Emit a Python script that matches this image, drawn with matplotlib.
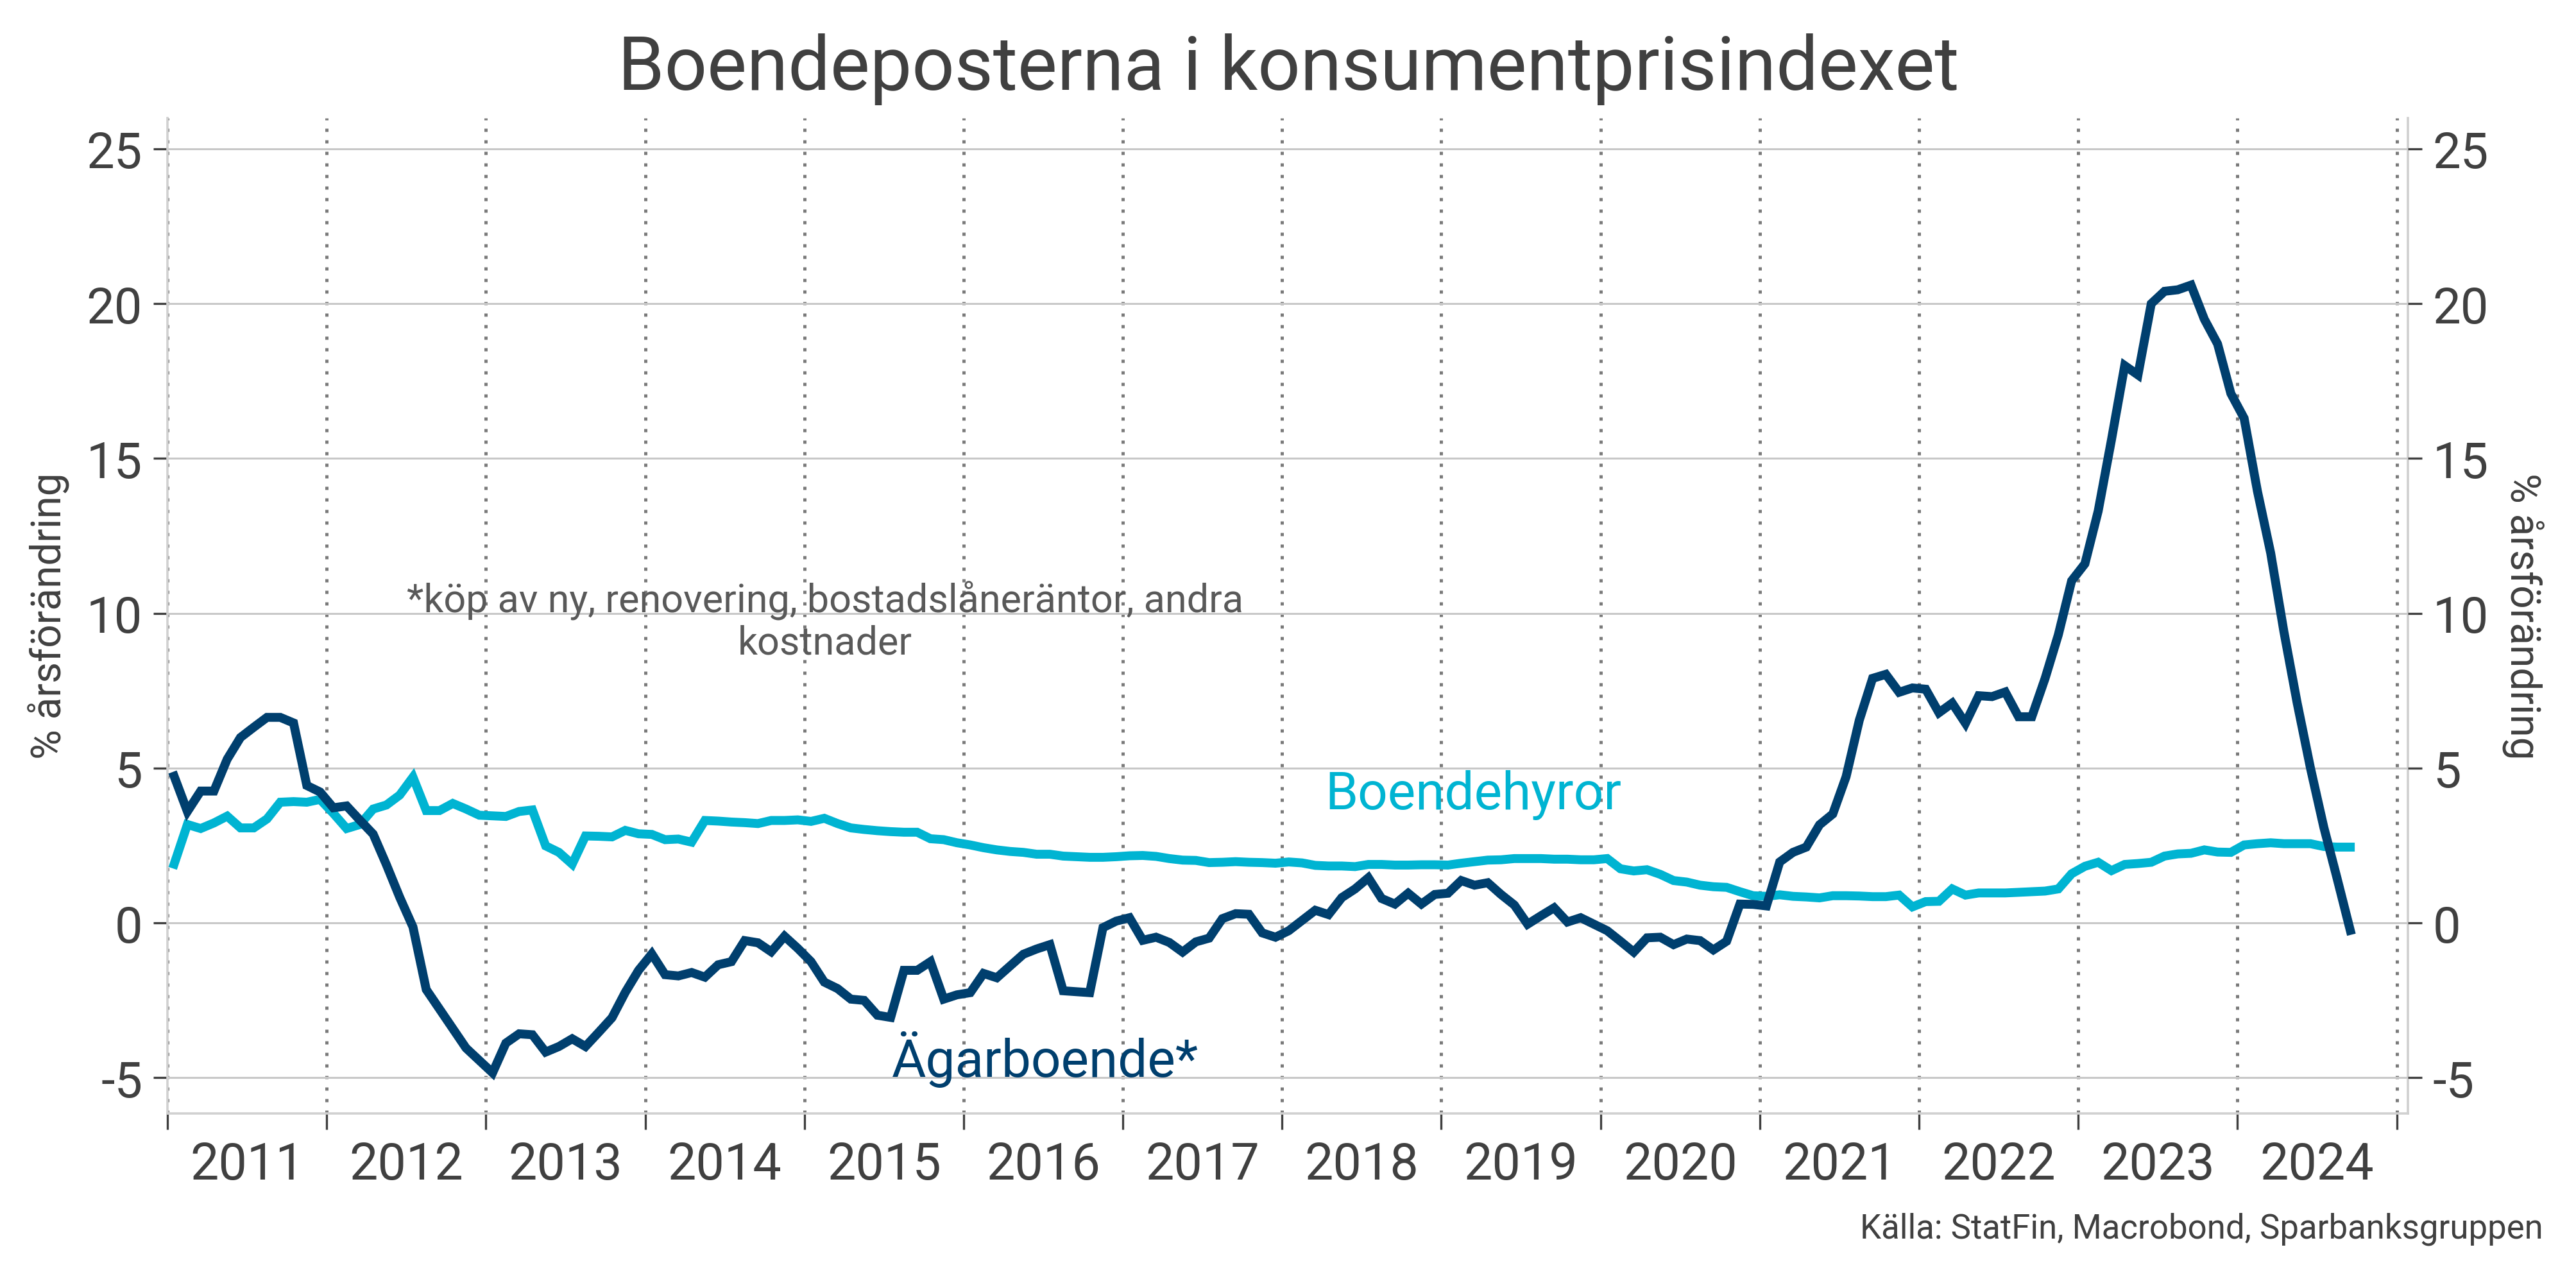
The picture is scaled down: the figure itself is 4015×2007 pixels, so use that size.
import numpy as np
import matplotlib
matplotlib.use("Agg")
import matplotlib.pyplot as plt
from matplotlib.ticker import FixedLocator, FuncFormatter

plt.rcParams['font.family'] = ['Roboto', 'DejaVu Sans']

# monthly data, Jan 2011 - Sep 2024 (% årsförändring)
start_year = 2011
agarboende = [
    4.74, 3.6, 4.26, 4.26, 5.29, 5.99, 6.32, 6.64, 6.64, 6.46, 4.44, 4.23,
    3.72, 3.78, 3.32, 2.87, 1.88, 0.83, -0.13, -2.15, -2.78, -3.41, -4.04, -4.44,
    -4.84, -3.88, -3.58, -3.61, -4.17, -3.99, -3.74, -3.99, -3.53, -3.06, -2.24, -1.53,
    -1.0, -1.67, -1.71, -1.6, -1.75, -1.35, -1.25, -0.57, -0.64, -0.93, -0.43, -0.82,
    -1.25, -1.91, -2.12, -2.46, -2.5, -2.98, -3.05, -1.53, -1.53, -1.25, -2.46, -2.32,
    -2.25, -1.63, -1.77, -1.39, -1.01, -0.84, -0.7, -2.19, -2.22, -2.25, -0.15, 0.06,
    0.17, -0.56, -0.46, -0.63, -0.94, -0.61, -0.49, 0.14, 0.3, 0.28, -0.32, -0.46,
    -0.25, 0.08, 0.41, 0.27, 0.82, 1.1, 1.46, 0.79, 0.61, 0.96, 0.61, 0.92,
    0.96, 1.37, 1.22, 1.3, 0.92, 0.58, -0.04, 0.23, 0.49, 0.03, 0.17, -0.04,
    -0.25, -0.59, -0.94, -0.48, -0.46, -0.7, -0.52, -0.57, -0.87, -0.59, 0.61, 0.6,
    0.55, 1.97, 2.28, 2.45, 3.17, 3.52, 4.72, 6.55, 7.9, 8.03, 7.45, 7.59,
    7.55, 6.79, 7.1, 6.45, 7.34, 7.31, 7.46, 6.66, 6.66, 7.9, 9.31, 11.05,
    11.6, 13.3, 15.6, 18.0, 17.7, 20.0, 20.4, 20.45, 20.6, 19.5, 18.7, 17.1,
    16.3, 13.95, 11.95, 9.4, 7.1, 5.0, 3.1, 1.45, -0.24,
]
boendehyror = [
    1.9, 3.18, 3.05, 3.23, 3.45, 3.07, 3.07, 3.36, 3.9, 3.92, 3.9, 3.99,
    3.54, 3.05, 3.18, 3.68, 3.81, 4.13, 4.71, 3.63, 3.63, 3.86, 3.68, 3.48,
    3.46, 3.44, 3.6, 3.65, 2.49, 2.28, 1.9, 2.81, 2.8, 2.78, 2.99, 2.88,
    2.86, 2.69, 2.71, 2.61, 3.31, 3.29, 3.26, 3.24, 3.21, 3.31, 3.31, 3.33,
    3.28, 3.38, 3.21, 3.07, 3.02, 2.98, 2.95, 2.93, 2.93, 2.72, 2.69, 2.59,
    2.52, 2.43, 2.36, 2.31, 2.28, 2.22, 2.22, 2.16, 2.14, 2.12, 2.12, 2.14,
    2.17, 2.18, 2.15, 2.08, 2.03, 2.02, 1.95, 1.96, 1.98, 1.96, 1.95, 1.93,
    1.97, 1.94, 1.86, 1.84, 1.84, 1.82, 1.89, 1.89, 1.87, 1.87, 1.88, 1.88,
    1.87, 1.93, 1.98, 2.03, 2.04, 2.08, 2.08, 2.08, 2.06, 2.06, 2.04, 2.04,
    2.08, 1.75, 1.68, 1.72, 1.57, 1.37, 1.32, 1.22, 1.17, 1.15, 1.01, 0.88,
    0.86, 0.91, 0.86, 0.84, 0.81, 0.88, 0.88, 0.87, 0.85, 0.85, 0.9, 0.52,
    0.69, 0.7, 1.1, 0.9, 0.97, 0.97, 0.97, 0.99, 1.01, 1.03, 1.1, 1.59,
    1.83, 1.96, 1.69, 1.89, 1.92, 1.96, 2.16, 2.23, 2.25, 2.36, 2.29, 2.28,
    2.52, 2.56, 2.59, 2.56, 2.56, 2.56, 2.47, 2.45, 2.45,
]
years = list(range(2011, 2025))
yticks = [-5, 0, 5, 10, 15, 20, 25]

dark = '#003F6E'
cyan = '#00B4D2'
txt = '#404040'

# x position: middle of each month, as decimal year
x = start_year + (np.arange(len(agarboende)) + 0.5) / 12

fig = plt.figure(figsize=(20.08, 10.04), dpi=200)
ax = fig.add_axes([0.065, 0.1355, 0.8695, 0.7725])

ax.plot(x, boendehyror, color=cyan, lw=5, solid_joinstyle='miter', zorder=3)
ax.plot(x, agarboende, color=dark, lw=5, solid_joinstyle='miter', zorder=4)

ax.set_xlim(2011, 2025.07)
ax.set_ylim(-6.15, 26)

# year boundaries: dotted lines + tick marks, labels in the middle of the year
ax.xaxis.set_major_locator(FixedLocator(years + [2025]))
ax.xaxis.set_minor_locator(FixedLocator([y + 0.5 for y in years]))
ax.xaxis.set_major_formatter(FuncFormatter(lambda v, p: ''))
ax.xaxis.set_minor_formatter(FuncFormatter(lambda v, p: str(int(v))))
ax.tick_params(axis='x', which='major', length=9, width=1.2, color=txt)
ax.tick_params(axis='x', which='minor', length=0, labelsize=28.5, labelcolor=txt, pad=15)
ax.grid(axis='x', which='major', color='#7a7a7a', lw=1.8, linestyle=(0, (1, 2.6)))

ax.set_yticks(yticks)
ax.yaxis.set_major_formatter(FuncFormatter(lambda v, p: str(int(v))))
ax.tick_params(axis='y', length=8, width=1.2, color=txt, labelsize=28, labelcolor=txt, pad=6)
ax.grid(axis='y', color='#c8c8c8', lw=1.1)
ax.set_axisbelow(True)

for s in ['left', 'right', 'bottom']:
    ax.spines[s].set_color('#d0d0d0')
    ax.spines[s].set_linewidth(1.3)
ax.spines['top'].set_visible(False)

ax2 = ax.twinx()
ax2.set_ylim(ax.get_ylim())
ax2.set_yticks(yticks)
ax2.yaxis.set_major_formatter(FuncFormatter(lambda v, p: str(int(v))))
ax2.tick_params(axis='y', length=8, width=1.2, color=txt, labelsize=28, labelcolor=txt, pad=6)
for s in ['left', 'right', 'bottom', 'top']:
    ax2.spines[s].set_visible(False)

ax.text(2018.27, 4.14, 'Boendehyror', color=cyan, fontsize=29.5, va='center', ha='left')
ax.text(2015.55, -4.4, 'Ägarboende*', color=dark, fontsize=29.5, va='center', ha='left')
ax.text(2015.13, 9.75, '*köp av ny, renovering, bostadslåneräntor, andra\nkostnader',
        color='#595959', fontsize=22, ha='center', va='center', linespacing=1.15)

fig.text(0.5, 0.946, 'Boendeposterna i konsumentprisindexet', ha='center', va='center',
         fontsize=42, color=txt)
fig.text(0.019, 0.522, '% årsförändring', rotation=90, ha='center', va='center',
         fontsize=23, color=txt)
fig.text(0.979, 0.522, '% årsförändring', rotation=270, ha='center', va='center',
         fontsize=23, color=txt)
fig.text(0.987, 0.046, 'Källa: StatFin, Macrobond, Sparbanksgruppen', ha='right', va='center',
         fontsize=19, color=txt)

fig.savefig('out.png', dpi=200)
